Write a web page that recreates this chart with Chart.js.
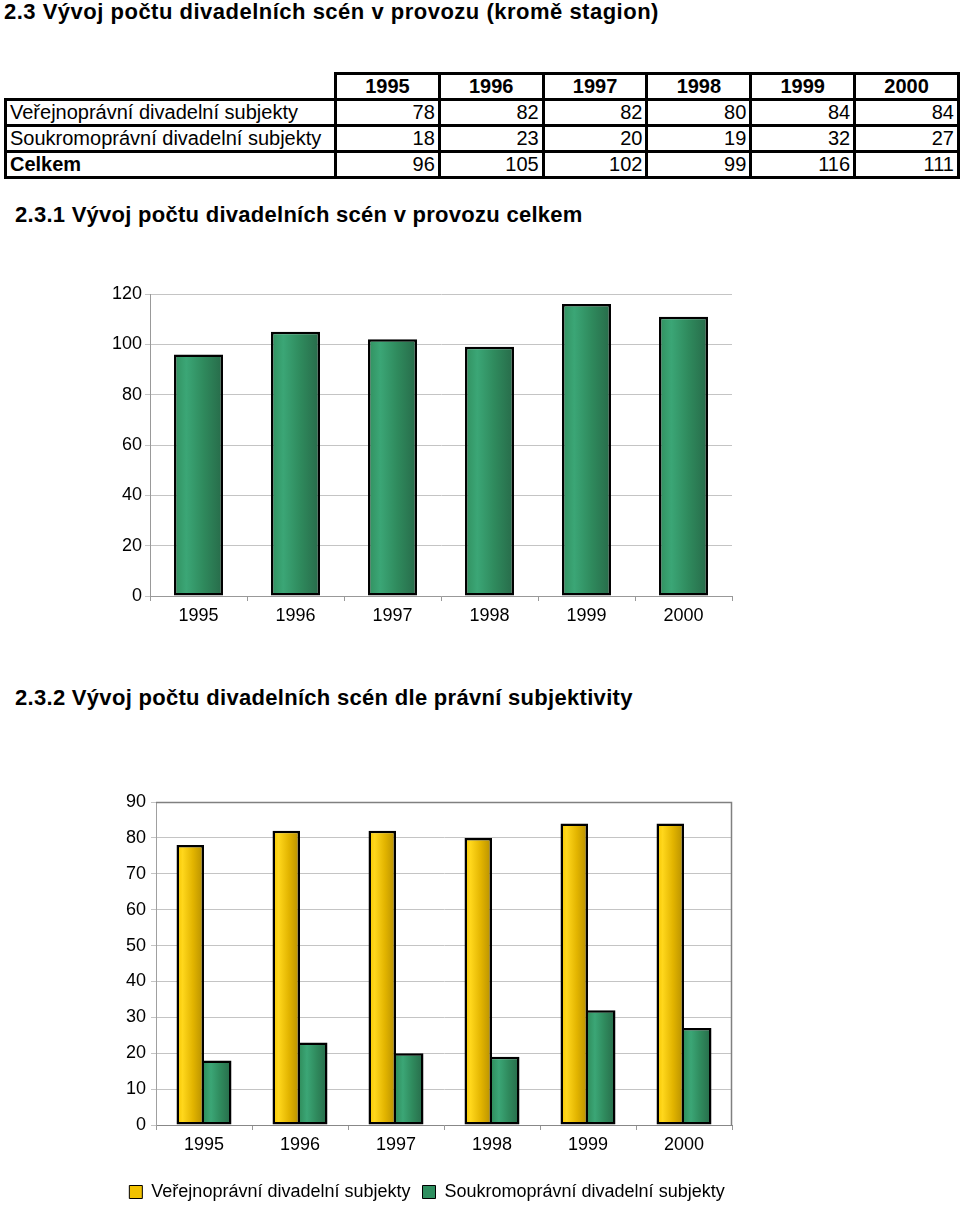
<!DOCTYPE html>
<html>
<head>
<meta charset="utf-8">
<script src="https://cdn.jsdelivr.net/npm/chart.js@4"></script>
<style>
  html, body { margin:0; padding:0; background:#fff; width:960px; height:1205px; overflow:hidden; }
  body { position:relative; font-family:"Liberation Sans", Arial, sans-serif; color:#000; }
  .h { position:absolute; font-weight:bold; white-space:nowrap; line-height:24px; font-size:22px; }
  table { position:absolute; left:4px; top:72px; border-collapse:collapse; font-size:20px; }
  td { border:3px solid #000; height:23px; padding:0 3px; line-height:23px; }
  td.e { border:none; border-bottom:3px solid #000; border-right:3px solid #000; }
  td.n { text-align:right; }
  th { border:3px solid #000; font-weight:bold; text-align:center; height:23px; line-height:23px; padding:0; }
  .cv { position:absolute; left:0; }
</style>
</head>
<body>
<div class="h" id="t0" style="left:4px; top:0px; letter-spacing:0.5px;">2.3 Vývoj počtu divadelních scén v provozu (kromě stagion)</div>
<table id="tbl"></table>
<div class="h" id="t1" style="left:15px; top:203px; letter-spacing:0.27px;">2.3.1 Vývoj počtu divadelních scén v provozu celkem</div>
<div class="cv" style="top:280px; width:760px; height:360px;"><canvas id="c1"></canvas></div>
<div class="h" id="t2" style="left:15px; top:686px; letter-spacing:0.3px;">2.3.2 Vývoj počtu divadelních scén dle právní subjektivity</div>
<div class="cv" style="top:780px; width:800px; height:431px;"><canvas id="c2"></canvas></div>
<script>
// ---- data ----
const years = ['1995', '1996', '1997', '1998', '1999', '2000'];
const seriesNames = ['Veřejnoprávní divadelní subjekty', 'Soukromoprávní divadelní subjekty'];
const verejnopravni = [78, 82, 82, 80, 84, 84];
const soukromopravni = [18, 23, 20, 19, 32, 27];
const celkem = [96, 105, 102, 99, 116, 111];
const totalLabel = 'Celkem';

// ---- table ----
(function(){
  const tbl = document.getElementById('tbl');
  let html = '<tr><td class="e" style="width:323px"></td>';
  years.forEach(y => html += '<th style="width:101px">' + y + '</th>');
  html += '</tr>';
  const rows = [[seriesNames[0], verejnopravni, false], [seriesNames[1], soukromopravni, false], [totalLabel, celkem, true]];
  rows.forEach(r => {
    html += '<tr><td' + (r[2] ? ' style="font-weight:bold"' : '') + '>' + r[0] + '</td>';
    r[1].forEach(v => html += '<td class="n">' + v + '</td>');
    html += '</tr>';
  });
  tbl.innerHTML = html;
})();

const FONT = '"Liberation Sans", Arial, sans-serif';
const GREEN_STOPS = [[0, '#31905f'], [0.25, '#3ba676'], [0.6, '#2f8a5d'], [1, '#276a49']];
const YELLOW_STOPS = [[0, '#f5c600'], [0.22, '#ffd71c'], [0.6, '#e2b400'], [1, '#b58e00']];

function grad(ctx, l, r, stops, solid) {
  if (!isFinite(l) || !isFinite(r) || r <= l) return solid;
  const g = ctx.createLinearGradient(l, 0, r, 0);
  stops.forEach(s => g.addColorStop(s[0], s[1]));
  return g;
}

Chart.defaults.animation = false;
Chart.defaults.font.family = FONT;
Chart.defaults.color = '#000';

// ---- chart 1 ----
const BAR1 = 0.505;
new Chart(document.getElementById('c1'), {
  type: 'bar',
  data: {
    labels: years,
    datasets: [{
      label: totalLabel,
      data: celkem,
      borderColor: '#000',
      borderWidth: 2.5,
      borderSkipped: false,
      barPercentage: BAR1,
      categoryPercentage: 1,
      backgroundColor: (c) => {
        const ch = c.chart, xs = ch.scales.x;
        if (!xs || c.dataIndex === undefined) return '#2f8a5d';
        const cw = xs.width / years.length;
        const cx = xs.getPixelForValue(c.dataIndex);
        const w = cw * BAR1;
        return grad(ch.ctx, cx - w / 2, cx + w / 2, GREEN_STOPS, '#2f8a5d');
      }
    }]
  },
  options: {
    responsive: true,
    maintainAspectRatio: false,
    layout: { padding: { top: 14, right: 28, left: 0, bottom: 0 } },
    plugins: { legend: { display: false }, tooltip: { enabled: false } },
    scales: {
      x: {
        grid: { drawOnChartArea: false, drawTicks: true, tickLength: 5, color: '#999', offset: true },
        border: { color: '#999' },
        ticks: { font: { size: 18 }, padding: 4, color: '#000' },
        afterFit: s => { s.height = 44; }
      },
      y: {
        min: 0, max: 120,
        ticks: { stepSize: 20, font: { size: 18 }, padding: 3, color: '#000' },
        grid: { color: '#c4c4c4', tickLength: 5 },
        border: { color: '#999' },
        afterFit: s => { s.width = 150; }
      }
    }
  }
});

// ---- chart 2 ----
const CAT2 = 55 / 96;
const frame = {
  id: 'frame',
  afterDraw(ch) {
    const a = ch.chartArea, ctx = ch.ctx;
    ctx.save();
    ctx.strokeStyle = '#808080';
    ctx.lineWidth = 1.5;
    ctx.beginPath();
    ctx.moveTo(a.left, a.top + 0.5);
    ctx.lineTo(a.right - 0.5, a.top + 0.5);
    ctx.lineTo(a.right - 0.5, a.bottom);
    ctx.stroke();
    ctx.restore();
  }
};
function gradFor(stops, dsIndex, solid) {
  return (c) => {
    const ch = c.chart, xs = ch.scales.x;
    if (!xs || c.dataIndex === undefined) return solid;
    const cw = xs.width / years.length;
    const cx = xs.getPixelForValue(c.dataIndex);
    const gw = cw * CAT2;
    const l = cx - gw / 2 + dsIndex * gw / 2;
    return grad(ch.ctx, l, l + gw / 2, stops, solid);
  };
}
new Chart(document.getElementById('c2'), {
  type: 'bar',
  data: {
    labels: years,
    datasets: [{
      label: seriesNames[0],
      data: verejnopravni,
      borderColor: '#000', borderWidth: 2.5, borderSkipped: false,
      barPercentage: 1, categoryPercentage: CAT2,
      backgroundColor: gradFor(YELLOW_STOPS, 0, '#f2c200')
    }, {
      label: seriesNames[1],
      data: soukromopravni,
      borderColor: '#000', borderWidth: 2.5, borderSkipped: 'left',
      barPercentage: 1, categoryPercentage: CAT2,
      backgroundColor: gradFor(GREEN_STOPS, 1, '#2f8f60')
    }]
  },
  options: {
    responsive: true,
    maintainAspectRatio: false,
    layout: { padding: { top: 22, right: 8, left: 62, bottom: 0 } },
    plugins: {
      tooltip: { enabled: false },
      legend: {
        position: 'bottom',
        labels: {
          boxWidth: 13, boxHeight: 13, padding: 12, color: '#000',
          font: { size: 18 },
          generateLabels: () => [
            { text: seriesNames[0], fillStyle: '#f2c200', strokeStyle: '#000', lineWidth: 1, datasetIndex: 0, hidden: false },
            { text: seriesNames[1], fillStyle: '#2f8f60', strokeStyle: '#000', lineWidth: 1, datasetIndex: 1, hidden: false }
          ]
        }
      }
    },
    scales: {
      x: {
        grid: { drawOnChartArea: false, drawTicks: true, tickLength: 5, color: '#999', offset: true },
        border: { color: '#888' },
        ticks: { font: { size: 18 }, padding: 4, color: '#000' },
        afterFit: s => { s.height = 46; }
      },
      y: {
        min: 0, max: 90,
        ticks: { stepSize: 10, font: { size: 18 }, padding: 5, color: '#000' },
        grid: { color: '#c4c4c4', tickLength: 5 },
        border: { color: '#a0a0a0' },
        afterFit: s => { s.width = 94; }
      },
      y2: {
        position: 'right',
        display: true,
        ticks: { display: false },
        grid: { display: false, drawTicks: false },
        border: { display: false },
        afterFit: s => { s.width = 60; }
      }
    }
  },
  plugins: [frame]
});
</script>
</body>
</html>
